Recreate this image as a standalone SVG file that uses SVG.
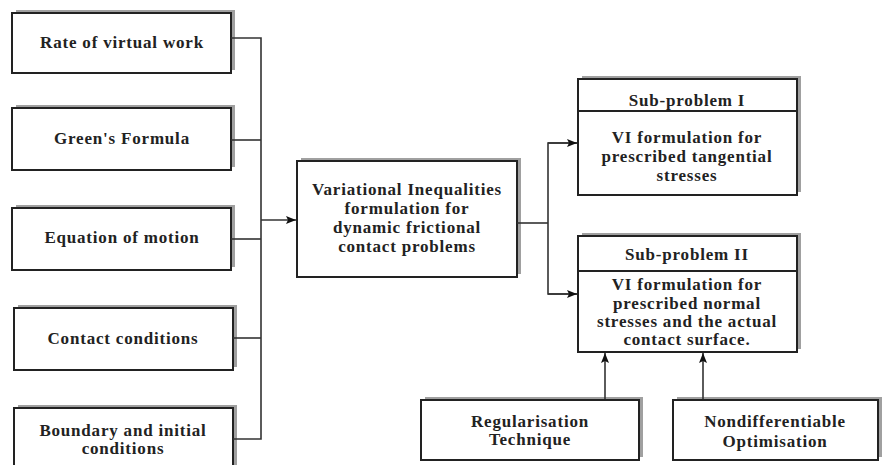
<svg xmlns="http://www.w3.org/2000/svg" width="885" height="465" viewBox="0 0 885 465">
<style>
.sh{fill:#a0a0a0}
.bx{fill:#fff;stroke:#222;stroke-width:2}
.t{font-family:"Liberation Serif","Times New Roman",serif;font-weight:bold;font-size:17px;letter-spacing:0.8px;fill:#222;text-anchor:middle}
.ln{fill:none;stroke:#333;stroke-width:1.6}
</style>
<defs>
<marker id="ah" viewBox="0 0 10 10" refX="10" refY="5" markerWidth="10" markerHeight="10" markerUnits="userSpaceOnUse" orient="auto">
<path d="M0,1 L10,5 L0,9 L2,5 Z" fill="#111"/>
</marker>
</defs>
<rect width="885" height="465" fill="#fff"/>

<g id="rate">
<rect class="sh" x="16" y="10" width="219" height="60"/>
<rect class="bx" x="12" y="13" width="219" height="60"/>
<text class="t" x="122" y="48">Rate of virtual work</text>
</g>
<g id="green">
<rect class="sh" x="16" y="105" width="219" height="62"/>
<rect class="bx" x="12" y="108" width="219" height="62"/>
<text class="t" x="122" y="144">Green's Formula</text>
</g>
<g id="motion">
<rect class="sh" x="16" y="205" width="219" height="62"/>
<rect class="bx" x="12" y="208" width="219" height="62"/>
<text class="t" x="122" y="243">Equation of motion</text>
</g>
<g id="contact">
<rect class="sh" x="18" y="305" width="219" height="62"/>
<rect class="bx" x="14" y="308" width="219" height="62"/>
<text class="t" x="123" y="344">Contact conditions</text>
</g>
<g id="boundary">
<rect class="sh" x="18" y="405" width="219" height="70"/>
<rect class="bx" x="14" y="408" width="219" height="70"/>
<text class="t" x="123" y="436">Boundary and initial</text>
<text class="t" x="123" y="454">conditions</text>
</g>

<g id="vi">
<rect class="sh" x="301" y="158" width="220" height="116"/>
<rect class="bx" x="297" y="161" width="220" height="116"/>
<text class="t" x="407" y="195">Variational Inequalities</text>
<text class="t" x="407" y="214">formulation for</text>
<text class="t" x="407" y="233">dynamic frictional</text>
<text class="t" x="407" y="252">contact problems</text>
</g>

<g id="sub1">
<rect class="sh" x="582" y="76" width="219" height="116"/>
<rect class="bx" x="578" y="79" width="219" height="116"/>
<line x1="578" y1="111" x2="797" y2="111" stroke="#222" stroke-width="2"/>
<text class="t" x="687" y="106">Sub-problem I</text>
<text class="t" x="687" y="143">VI formulation for</text>
<text class="t" x="687" y="162">prescribed tangential</text>
<text class="t" x="687" y="181">stresses</text>
</g>

<g id="sub2">
<rect class="sh" x="582" y="233" width="219" height="116"/>
<rect class="bx" x="578" y="236" width="219" height="116"/>
<line x1="578" y1="271" x2="797" y2="271" stroke="#222" stroke-width="2"/>
<text class="t" x="687" y="260">Sub-problem II</text>
<text class="t" x="687" y="290">VI formulation for</text>
<text class="t" x="687" y="309">prescribed normal</text>
<text class="t" x="687" y="327">stresses and the actual</text>
<text class="t" x="687" y="345">contact surface.</text>
</g>

<g id="reg">
<rect class="sh" x="425" y="397" width="218" height="60"/>
<rect class="bx" x="421" y="400" width="218" height="60"/>
<text class="t" x="530" y="427">Regularisation</text>
<text class="t" x="530" y="445">Technique</text>
</g>

<g id="nondiff">
<rect class="sh" x="677" y="397" width="205" height="60"/>
<rect class="bx" x="673" y="400" width="205" height="60"/>
<text class="t" x="775" y="427">Nondifferentiable</text>
<text class="t" x="775" y="447">Optimisation</text>
</g>

<g id="connectors">
<polyline class="ln" points="231,38 261,38 261,439 233,439"/>
<line class="ln" x1="231" y1="140" x2="261" y2="140"/>
<line class="ln" x1="231" y1="239" x2="261" y2="239"/>
<line class="ln" x1="233" y1="338" x2="261" y2="338"/>
<line class="ln" x1="261" y1="220" x2="296" y2="220" marker-end="url(#ah)"/>
<line class="ln" x1="517" y1="223" x2="548" y2="223"/>
<polyline class="ln" points="577,143 548,143 548,294 577,294"/>
<line class="ln" x1="548" y1="143" x2="577" y2="143" marker-end="url(#ah)"/>
<line class="ln" x1="548" y1="294" x2="577" y2="294" marker-end="url(#ah)"/>
<line class="ln" x1="605" y1="399" x2="605" y2="353" marker-end="url(#ah)"/>
<line class="ln" x1="703" y1="399" x2="703" y2="353" marker-end="url(#ah)"/>
</g>
</svg>
